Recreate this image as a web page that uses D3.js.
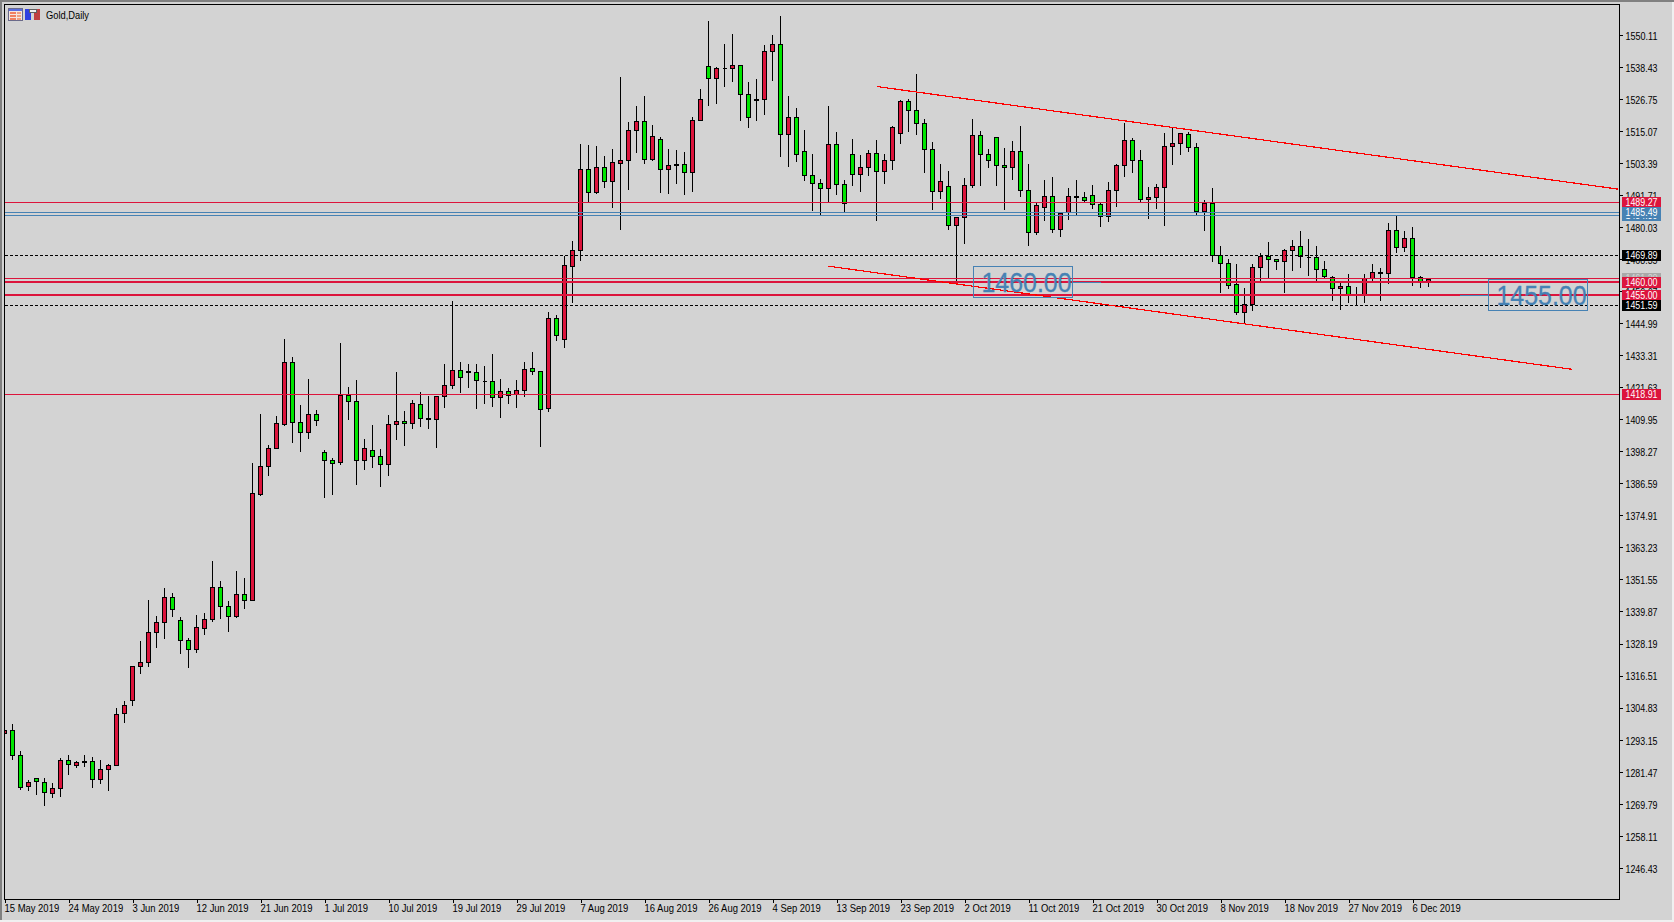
<!DOCTYPE html>
<html>
<head>
<meta charset="utf-8">
<title>Gold,Daily</title>
<script src="https://cdn.jsdelivr.net/npm/d3@7"></script>
<style>
  html, body { margin: 0; padding: 0; background: #f0f0f0; overflow: hidden; }
  svg { display: block; }
  text { font-family: "Liberation Sans", sans-serif; font-size: 10.5px; }
</style>
</head>
<body>
<svg width="1674" height="922"></svg>
<script>
// daily gold candles, 15 May - 9 Dec 2019
const opens = [
  1295.7,1296.5,1287.4,1276.1,1279.0,1277.8,1273.8,1275.4,1285.6,1284.0,
  1284.9,1285.2,1278.7,1282.3,1283.8,1302.7,1307.5,1319.9,1321.3,1332.3,
  1335.9,1345.0,1336.6,1329.4,1326.1,1334.0,1337.0,1348.7,1341.8,1338.1,
  1346.1,1343.9,1382.8,1392.8,1399.6,1408.4,1430.7,1408.9,1405.2,1411.8,
  1397.9,1395.0,1394.3,1418.7,1416.5,1395.0,1398.6,1396.5,1393.5,1408.1,
  1409.2,1408.5,1415.4,1409.9,1409.9,1418.3,1422.4,1427.8,1427.1,1427.1,
  1423.8,1423.8,1418.0,1420.2,1419.1,1420.5,1428.6,1427.5,1414.0,1446.8,
  1439.4,1466.0,1471.6,1501.1,1492.7,1501.9,1497.0,1503.6,1504.4,1515.3,
  1518.6,1504.8,1512.1,1501.1,1502.6,1502.9,1500.3,1519.0,1538.7,1534.3,
  1538.0,1538.0,1539.1,1528.5,1526.3,1526.7,1544.2,1546.7,1513.9,1520.1,
  1507.7,1498.9,1496.0,1494.2,1510.2,1495.7,1506.6,1499.3,1501.9,1507.0,
  1500.4,1504.4,1514.3,1525.9,1522.6,1517.9,1508.4,1493.1,1494.9,1480.7,
  1483.6,1495.3,1513.5,1506.6,1512.8,1502.6,1501.9,1507.7,1493.5,1478.1,
  1487.3,1491.3,1479.2,1485.4,1490.9,1490.9,1491.6,1488.4,1484.0,1493.5,
  1502.6,1511.7,1504.4,1490.2,1490.9,1494.6,1509.5,1510.6,1513.9,1509.1,
  1485.8,1488.7,1469.8,1466.8,1459.2,1449.0,1451.9,1465.4,1469.4,1468.3,
  1467.6,1471.6,1473.0,1469.0,1469.0,1464.7,1461.7,1457.7,1458.4,1455.4,
  1455.3,1461.4,1463.2,1463.2,1478.9,1472.7,1476.0,1461.7,1460.3
];
const highs = [
  1296.5,1298.8,1289.0,1278.4,1279.0,1279.0,1277.3,1286.3,1287.5,1285.3,
  1287.5,1286.7,1285.7,1284.2,1304.6,1307.1,1319.9,1329.1,1344.1,1338.2,
  1348.4,1346.6,1337.7,1330.1,1338.6,1339.3,1358.3,1351.0,1343.7,1354.6,
  1352.1,1394.0,1411.9,1400.6,1411.0,1439.3,1432.7,1415.2,1424.7,1413.2,
  1398.8,1395.7,1437.8,1421.7,1424.3,1402.7,1407.9,1399.1,1411.4,1427.2,
  1412.9,1416.9,1419.8,1418.3,1418.5,1430.1,1453.1,1430.9,1430.1,1430.1,
  1429.4,1433.8,1424.7,1421.3,1424.3,1430.9,1434.5,1427.5,1449.1,1448.0,
  1469.6,1474.9,1510.4,1510.0,1509.6,1506.0,1508.5,1534.8,1518.4,1524.1,
  1527.7,1517.3,1512.8,1508.5,1508.2,1507.4,1520.1,1530.3,1555.2,1538.3,
  1546.8,1550.5,1539.1,1533.0,1534.1,1546.3,1550.1,1557.0,1527.7,1523.4,
  1515.3,1506.7,1497.6,1524.1,1514.6,1497.1,1512.1,1506.2,1508.1,1511.8,
  1506.6,1516.8,1526.4,1526.8,1535.9,1519.4,1511.0,1503.0,1500.5,1483.6,
  1497.8,1519.4,1515.0,1508.4,1512.8,1508.8,1511.5,1516.9,1503.1,1488.7,
  1497.1,1498.2,1485.1,1494.2,1497.1,1492.7,1495.3,1488.7,1496.4,1503.0,
  1517.9,1512.4,1508.1,1494.6,1495.7,1514.4,1516.2,1514.3,1514.6,1510.6,
  1489.8,1494.2,1473.0,1468.3,1466.5,1457.7,1466.5,1470.5,1474.5,1468.3,
  1471.9,1475.2,1478.5,1475.6,1473.0,1467.6,1462.1,1459.5,1462.8,1458.1,
  1462.8,1466.5,1465.0,1481.4,1484.1,1478.5,1480.0,1462.1,1461.0
];
const lows = [
  1295.7,1286.2,1275.3,1274.9,1273.4,1269.4,1272.3,1272.7,1280.7,1283.3,
  1283.6,1276.0,1277.4,1274.9,1283.8,1299.7,1305.9,1317.6,1320.1,1327.0,
  1330.3,1338.3,1324.9,1319.7,1325.2,1331.8,1336.5,1337.6,1332.9,1337.7,
  1341.3,1343.9,1382.5,1389.8,1399.6,1408.0,1401.8,1398.5,1403.3,1408.0,
  1381.7,1382.8,1393.8,1410.2,1386.5,1392.0,1392.7,1385.8,1389.8,1402.9,
  1400.7,1406.8,1407.6,1406.9,1400.0,1414.5,1421.5,1420.0,1421.7,1414.2,
  1416.0,1414.9,1410.9,1416.0,1414.6,1418.6,1426.6,1400.3,1413.1,1438.9,
  1436.4,1452.7,1468.2,1489.6,1492.6,1494.8,1487.5,1479.5,1494.1,1507.6,
  1503.6,1504.7,1493.0,1492.6,1496.3,1492.3,1493.3,1519.0,1524.7,1525.4,
  1531.6,1533.5,1519.2,1516.7,1519.2,1521.4,1533.8,1506.1,1502.5,1504.3,
  1497.4,1486.4,1484.6,1489.1,1492.3,1485.7,1495.4,1493.3,1498.9,1482.8,
  1496.3,1501.1,1510.9,1515.1,1514.1,1500.3,1486.8,1490.8,1479.5,1459.5,
  1474.4,1494.8,1495.5,1502.1,1495.5,1486.8,1497.7,1491.4,1473.6,1477.7,
  1482.8,1478.4,1476.9,1483.1,1484.3,1489.1,1487.1,1480.6,1482.4,1487.9,
  1498.7,1500.3,1489.7,1483.3,1486.9,1480.9,1503.2,1506.8,1507.9,1485.0,
  1479.1,1467.8,1456.3,1457.7,1448.2,1445.0,1449.9,1460.4,1462.0,1464.7,
  1456.3,1464.5,1465.6,1462.7,1460.9,1461.7,1453.6,1450.1,1452.9,1452.1,
  1452.9,1460.3,1453.6,1459.5,1471.1,1471.5,1459.1,1458.3,1458.7
];
const closes = [
  1296.5,1287.4,1276.0,1277.8,1277.9,1273.9,1275.4,1285.6,1284.1,1284.9,
  1285.2,1278.7,1282.3,1283.8,1302.4,1305.6,1319.9,1321.3,1332.3,1335.9,
  1345.0,1340.7,1329.4,1326.1,1334.1,1337.0,1348.7,1341.8,1338.1,1346.1,
  1343.9,1383.0,1392.8,1399.4,1408.5,1430.7,1408.9,1405.2,1411.8,1409.6,
  1395.0,1393.9,1418.7,1416.5,1395.0,1399.4,1396.5,1393.5,1408.1,1409.2,
  1408.5,1415.8,1410.3,1410.3,1418.3,1422.4,1427.8,1425.3,1427.5,1424.2,
  1423.8,1418.0,1420.2,1418.7,1420.5,1428.2,1427.5,1413.6,1446.8,1440.6,
  1466.1,1471.6,1501.1,1492.7,1501.9,1497.0,1503.7,1504.4,1515.3,1518.6,
  1504.8,1513.2,1501.1,1502.6,1502.9,1500.3,1519.0,1526.7,1534.3,1538.0,
  1538.0,1539.1,1528.5,1520.1,1526.7,1544.2,1546.7,1513.9,1520.1,1506.6,
  1498.9,1496.0,1494.2,1510.2,1495.7,1488.7,1499.3,1501.9,1507.0,1500.4,
  1504.4,1516.4,1525.9,1522.6,1517.9,1508.4,1493.1,1496.8,1480.7,1483.6,
  1495.3,1513.5,1506.6,1504.4,1502.6,1501.9,1507.7,1493.5,1478.1,1488.0,
  1491.3,1479.2,1485.1,1491.3,1491.3,1489.8,1488.4,1484.0,1493.5,1502.6,
  1511.7,1504.4,1490.2,1490.9,1494.6,1509.5,1510.6,1514.3,1509.1,1485.8,
  1488.7,1469.8,1466.8,1458.8,1449.0,1451.9,1465.4,1469.4,1468.3,1467.6,
  1471.6,1473.0,1469.4,1469.1,1464.7,1462.1,1457.7,1458.4,1455.5,1455.5,
  1461.4,1463.6,1463.6,1478.9,1472.7,1476.0,1461.7,1460.3,1461.0
];

const dateLabels = ["15 May 2019","24 May 2019","3 Jun 2019","12 Jun 2019","21 Jun 2019","1 Jul 2019",
  "10 Jul 2019","19 Jul 2019","29 Jul 2019","7 Aug 2019","16 Aug 2019","26 Aug 2019","4 Sep 2019",
  "13 Sep 2019","23 Sep 2019","2 Oct 2019","11 Oct 2019","21 Oct 2019","30 Oct 2019","8 Nov 2019",
  "18 Nov 2019","27 Nov 2019","6 Dec 2019"];
const barsPerDateTick = 8;
const priceTicks = [1550.11,1538.43,1526.75,1515.07,1503.39,1491.71,1480.03,1468.35,1456.67,1444.99,
  1433.31,1421.63,1409.95,1398.27,1386.59,1374.91,1363.23,1351.55,1339.87,1328.19,1316.51,1304.83,
  1293.15,1281.47,1269.79,1258.11,1246.43];

// horizontal levels and the two channel lines
const redLevels = [1489.27, 1418.91, 1461.2];
const thickLevels = [1460.00, 1455.00];
const blueLevels = [1485.49, 1484.39];
const dashLevels = [1469.89, 1451.59];
const channelLines = [
  { bar0: 109.1, price0: 1531.3, bar1: 201.7, price1: 1493.9 },
  { bar0: 103.0, price0: 1465.8, bar1: 195.9, price1: 1428.2 }
];
const priceBoxes = [
  { text: "1460.00", price: 1460.00 },
  { text: "1455.00", price: 1455.00 }
];

const crimson = "#dc143c", lime = "#00e600", steel = "#4682b4";
const plotL = 4.5, plotR = 1619.5, plotT = 4.5, plotB = 899.5;

const svg = d3.select("svg");
const x = d3.scaleLinear().domain([0, 178]).range([4.5, 1428.5]);
const y = d3.scaleLinear().domain([1550.11, 1246.43]).range([35, 867.7]);
const row = p => Math.round(y(p));
const levelRow = p => Math.round(y(p) - 0.3);

// window chrome
svg.append("rect").attr("width", 1674).attr("height", 922).attr("fill", "#f0f0f0");
svg.append("rect").attr("width", 1672).attr("height", 920).attr("fill", "#d3d3d3");
svg.append("rect").attr("width", 1674).attr("height", 2).attr("fill", "#808080");
svg.append("rect").attr("width", 2).attr("height", 920).attr("fill", "#808080");

svg.append("clipPath").attr("id", "plot").append("rect")
  .attr("x", plotL).attr("y", plotT).attr("width", plotR - plotL).attr("height", plotB - plotT);

const plot = svg.append("g").attr("clip-path", "url(#plot)").attr("shape-rendering", "crispEdges");

// candles
const bars = d3.range(opens.length);
plot.selectAll("line.wick").data(bars).join("line")
  .attr("class", "wick")
  .attr("x1", i => x(i)).attr("x2", i => x(i))
  .attr("y1", i => row(highs[i])).attr("y2", i => row(lows[i]) + 1)
  .attr("stroke", "#000");

plot.selectAll("path.body").data(bars).join("path")
  .attr("class", "body")
  .attr("d", i => {
    const a = row(Math.max(opens[i], closes[i])) + 0.5;
    const b = row(Math.min(opens[i], closes[i])) + 0.5;
    return `M${x(i) - 2},${a}H${x(i) + 2}V${b}H${x(i) - 2}Z`;
  })
  .attr("fill", i => closes[i] >= opens[i] ? crimson : lime)
  .attr("stroke", "#000");

// levels sit on top of the candles
const hline = (levels, color, width, dash) => plot.selectAll(null).data(levels).join("line")
  .attr("x1", plotL).attr("x2", plotR)
  .attr("y1", d => levelRow(d) + (width === 1 ? 0.5 : 0))
  .attr("y2", d => levelRow(d) + (width === 1 ? 0.5 : 0))
  .attr("stroke", color).attr("stroke-width", width)
  .attr("stroke-dasharray", dash);

hline(dashLevels, "#000", 1, "3,2");
hline(blueLevels, steel, 1, null);
hline(redLevels, crimson, 1, null);
hline(thickLevels, crimson, 2, null);

plot.selectAll("line.channel").data(channelLines).join("line")
  .attr("class", "channel")
  .attr("x1", d => x(d.bar0)).attr("y1", d => y(d.price0))
  .attr("x2", d => x(d.bar1)).attr("y2", d => y(d.price1))
  .attr("stroke", "#ff0000").attr("stroke-width", 1.2);

// the two boxed price texts with their little leader lines
const boxes = svg.append("g");
const boxX = [973.5, 1488.5];
const leaderX = [[1073, 1101], [1460, 1488]];
priceBoxes.forEach((b, k) => {
  const cy = levelRow(b.price);
  boxes.append("line")
    .attr("x1", leaderX[k][0]).attr("x2", leaderX[k][1])
    .attr("y1", cy + 0.5).attr("y2", cy + 0.5)
    .attr("stroke", steel).attr("shape-rendering", "crispEdges");
  boxes.append("rect")
    .attr("x", boxX[k]).attr("y", cy - 16 + 0.5).attr("width", 99).attr("height", 31)
    .attr("fill", "none").attr("stroke", steel).attr("shape-rendering", "crispEdges");
  boxes.append("text")
    .attr("x", boxX[k] + 8).attr("y", cy + 10)
    .style("font-size", "28px")
    .attr("textLength", 90).attr("lengthAdjust", "spacingAndGlyphs")
    .attr("fill", steel).attr("stroke", steel).attr("stroke-width", 0.3)
    .text(b.text);
});

// axes
const axisY = d3.axisRight(y).tickValues(priceTicks).tickSize(3).tickSizeOuter(0).tickPadding(3)
  .tickFormat(d3.format(".2f"));
const gy = svg.append("g").attr("transform", `translate(${plotR},0)`).call(axisY);
gy.select(".domain").remove();
gy.selectAll("text").attr("fill", "#000").attr("dy", "0.42em")
  .attr("textLength", 32).attr("lengthAdjust", "spacingAndGlyphs");
gy.selectAll("line").attr("stroke", "#000").attr("shape-rendering", "crispEdges");

const axisX = d3.axisBottom(x)
  .tickValues(dateLabels.map((d, k) => k * barsPerDateTick))
  .tickFormat((d, k) => dateLabels[k])
  .tickSize(3).tickSizeOuter(0).tickPadding(2);
const gx = svg.append("g").attr("transform", `translate(0,${plotB})`).call(axisX);
gx.select(".domain").remove();
gx.selectAll("text").attr("text-anchor", "start").attr("fill", "#000").attr("dx", -0.5)
  .attr("textLength", function () { return this.getComputedTextLength() * 0.9; })
  .attr("lengthAdjust", "spacingAndGlyphs");
gx.selectAll("line").attr("stroke", "#000").attr("shape-rendering", "crispEdges");

// plot frame
svg.append("rect")
  .attr("x", plotL).attr("y", plotT).attr("width", plotR - plotL).attr("height", plotB - plotT)
  .attr("fill", "none").attr("stroke", "#000").attr("shape-rendering", "crispEdges");

// price flags on the axis, back to front
const flags = [
  { price: 1489.27, fill: crimson, color: "#fff" },
  { price: 1484.39, fill: steel, color: "#fff" },
  { price: 1485.49, fill: steel, color: "#fff" },
  { price: 1469.89, fill: "#000", color: "#fff" },
  { price: 1461.20, fill: "#a9a9a9", color: "#d3d3d3" },
  { price: 1460.00, fill: crimson, color: "#fff" },
  { price: 1455.00, fill: crimson, color: "#fff" },
  { price: 1451.59, fill: "#000", color: "#fff" },
  { price: 1418.91, fill: crimson, color: "#fff" }
];
const flag = svg.append("g").selectAll("g").data(flags).join("g")
  .attr("transform", d => `translate(1622,${levelRow(d.price) - 5})`);
flag.append("rect").attr("width", 39).attr("height", 11)
  .attr("fill", d => d.fill).attr("shape-rendering", "crispEdges");
flag.append("text").attr("x", 3.5).attr("y", 9)
  .attr("textLength", 32).attr("lengthAdjust", "spacingAndGlyphs")
  .attr("fill", d => d.color).text(d => d.price.toFixed(2));

// title and the two small window icons
const icon = svg.append("g").attr("shape-rendering", "crispEdges");
icon.append("rect").attr("x", 8.5).attr("y", 8.5).attr("width", 14).attr("height", 12)
  .attr("fill", "#f4e6e0").attr("stroke", "#6a6a8a");
icon.append("rect").attr("x", 9).attr("y", 9).attr("width", 13).attr("height", 2).attr("fill", "#5a6ee0");
icon.selectAll(null).data([12, 15, 18]).join("rect")
  .attr("x", 10).attr("y", d => d).attr("width", 6).attr("height", 2).attr("fill", "#f08060");
icon.selectAll(null).data([12, 15, 18]).join("rect")
  .attr("x", 17).attr("y", d => d).attr("width", 4).attr("height", 2).attr("fill", "#f0a080");
icon.append("rect").attr("x", 25).attr("y", 9).attr("width", 6).attr("height", 11).attr("fill", "#3040e0");
icon.append("rect").attr("x", 34).attr("y", 9).attr("width", 6).attr("height", 11).attr("fill", "#c04040");
icon.append("rect").attr("x", 29).attr("y", 9).attr("width", 7).attr("height", 3).attr("fill", "#f0f0f0").attr("stroke", "#606060");
svg.append("text").attr("x", 46).attr("y", 18.5).attr("fill", "#000")
  .attr("textLength", 43).attr("lengthAdjust", "spacingAndGlyphs").text("Gold,Daily");
</script>
</body>
</html>
